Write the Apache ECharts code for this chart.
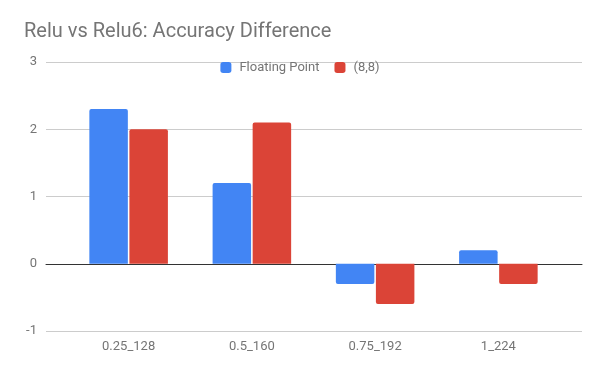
<!DOCTYPE html>
<html>
<head>
<meta charset="utf-8">
<script src="https://cdn.jsdelivr.net/npm/echarts@6/dist/echarts.min.js"></script>
<style>
  html, body { margin: 0; padding: 0; background: #fff; }
  #chart { width: 600px; height: 371px; }
</style>
</head>
<body>
<div id="chart"></div>
<script>
// data
var categories = ['0.25_128', '0.5_160', '0.75_192', '1_224'];
var floatingPoint = [2.3, 1.2, -0.3, 0.2];
var quant88 = [2.0, 2.1, -0.6, -0.3];
var yTicks = [-1, 0, 1, 2, 3];

var chart = echarts.init(document.getElementById('chart'));

// round only the outer end of each bar
function withCorners(values) {
  return values.map(function (v) {
    return { value: v, itemStyle: { borderRadius: v >= 0 ? [2, 2, 0, 0] : [0, 0, 2, 2] } };
  });
}

var font = 'Roboto, sans-serif';
var grey = '#757575';

var option = {
  animation: false,
  title: {
    text: 'Relu vs Relu6: Accuracy Difference',
    left: 19,
    top: 17,
    textStyle: { fontFamily: font, fontSize: 20, fontWeight: 'normal', color: grey }
  },
  legend: {
    left: 'center',
    top: 56,
    itemWidth: 11,
    itemHeight: 11,
    itemGap: 15,
    icon: 'roundRect',
    textStyle: { fontFamily: font, fontSize: 13, color: grey, padding: [0, 0, 0, 3] },
    data: ['Floating Point', '(8,8)']
  },
  grid: [
    { left: 46, right: 18, top: 62, bottom: 40 },
    { left: 67, right: 40, top: 62, bottom: 40 }
  ],
  xAxis: [
    {
      gridIndex: 0, type: 'value', min: 0, max: 1,
      axisLine: { show: true, onZero: true, lineStyle: { color: '#333', width: 1 } },
      axisTick: { show: false }, axisLabel: { show: false }, splitLine: { show: false }
    },
    {
      gridIndex: 1, type: 'category', data: categories,
      axisLine: { show: false }, axisTick: { show: false },
      axisLabel: { fontFamily: font, fontSize: 13, color: grey, margin: 9 }
    }
  ],
  yAxis: [
    {
      gridIndex: 0, type: 'value',
      min: yTicks[0], max: yTicks[yTicks.length - 1], interval: 1,
      axisLine: { show: false }, axisTick: { show: false },
      axisLabel: { fontFamily: font, fontSize: 13, color: grey, margin: 9 },
      splitLine: { lineStyle: { color: '#cccccc', width: 1 } }
    },
    {
      gridIndex: 1, type: 'value',
      min: yTicks[0], max: yTicks[yTicks.length - 1], interval: 1,
      axisLine: { show: false }, axisTick: { show: false },
      axisLabel: { show: false }, splitLine: { show: false }
    }
  ],
  series: [
    {
      name: 'Floating Point', type: 'bar', xAxisIndex: 1, yAxisIndex: 1,
      barWidth: 38.5, barGap: '4%',
      itemStyle: { color: '#4285f4' },
      data: withCorners(floatingPoint)
    },
    {
      name: '(8,8)', type: 'bar', xAxisIndex: 1, yAxisIndex: 1,
      barWidth: 38.5, barGap: '4%',
      itemStyle: { color: '#db4437' },
      data: withCorners(quant88)
    }
  ]
};

chart.setOption(option);
</script>
</body>
</html>
